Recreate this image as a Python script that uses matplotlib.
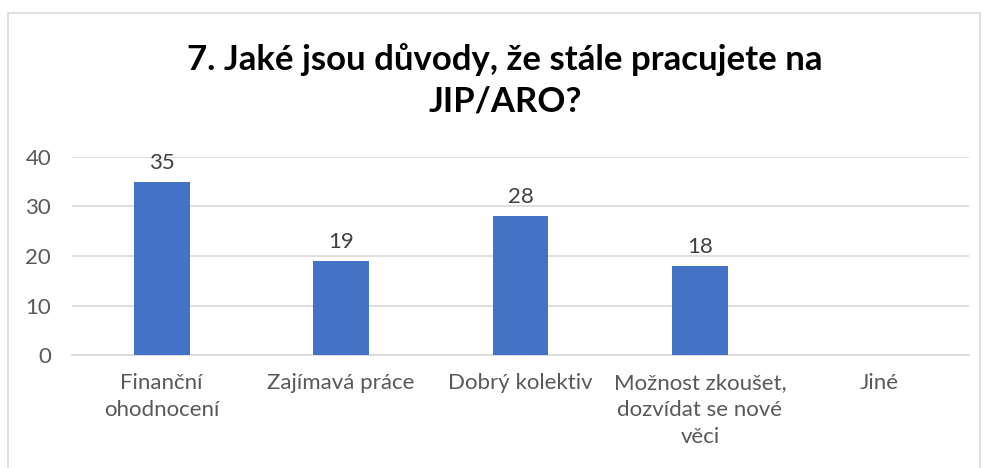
import numpy as np
import matplotlib
matplotlib.use("Agg")
import matplotlib.pyplot as plt
from matplotlib.patches import Rectangle

plt.rcParams['font.family'] = ['Lato', 'DejaVu Sans']

# data
categories = ["Finanční\nohodnocení", "Zajímavá práce", "Dobrý kolektiv",
              "Možnost zkoušet,\ndozvídat se nové\nvěci", "Jiné"]
values = [35, 19, 28, 18, 0]
yticks = [0, 10, 20, 30, 40]
title = "7. Jaké jsou důvody, že stále pracujete na\nJIP/ARO?"

fig = plt.figure(figsize=(9.86, 4.68), dpi=100)
ax = fig.add_axes([72/986, 1-355/468, 897/986, (355-157)/468])

x = np.arange(len(categories))
bars = ax.bar(x, values, width=0.31, color="#4472C4", zorder=3)
for xi, v in zip(x, values):
    if v:
        ax.text(xi, v + 1.8, str(v), ha="center", va="bottom",
                fontsize=16, color="#404040", clip_on=False)

ax.set_xlim(-0.5, len(categories) - 0.5)
ax.set_ylim(0, 40)
ax.set_yticks(yticks)
ax.set_xticks(x)
ax.set_xticklabels(categories, fontsize=16, color="#595959", linespacing=1.45)
ax.tick_params(axis="y", length=0, pad=15, labelsize=16, labelcolor="#595959")
ax.tick_params(axis="x", length=0, pad=13)
ax.grid(axis="y", color="#d9d9d9", linewidth=1.2, zorder=0)
for s in ["top", "right", "left"]:
    ax.spines[s].set_visible(False)
ax.spines["bottom"].set_color("#d9d9d9")
ax.spines["bottom"].set_linewidth(1.2)

fig.text(505/986, 1-80/468, title, ha="center", va="center", fontsize=25,
         fontweight="bold", color="black", linespacing=1.35)

fig.patches.append(Rectangle((8/986, -0.05), 972/986, 1.05 - 13/468,
                             transform=fig.transFigure, fill=False,
                             edgecolor="#d9d9d9", linewidth=1.2))

fig.savefig("out.png", dpi=100)
